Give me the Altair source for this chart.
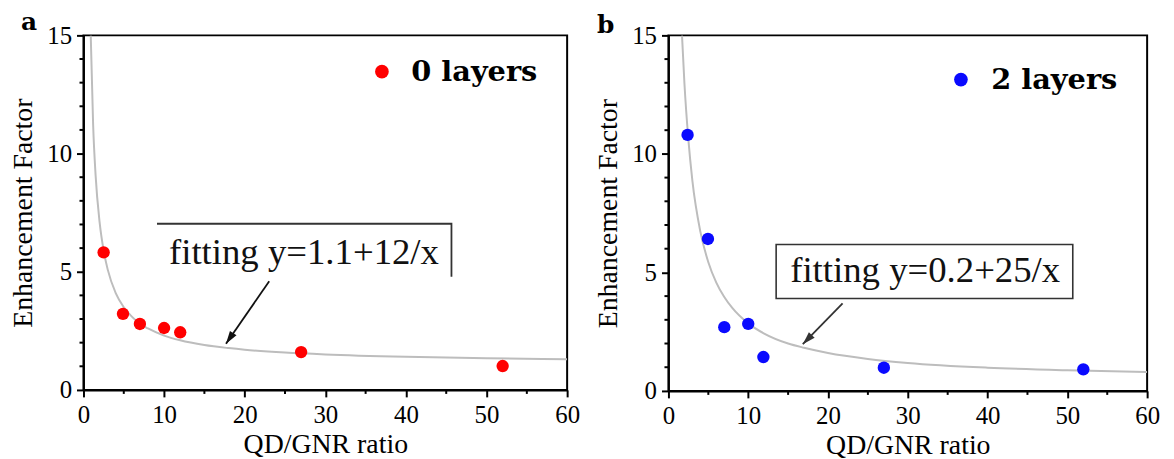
import altair as alt
import pandas as pd

# ---- data ----
ratio_a = [2.5, 4.9, 7.0, 10.0, 12.0, 27.0, 52.0]
ef_0layers = [5.82, 3.22, 2.79, 2.62, 2.44, 1.60, 1.01]
ratio_b = [2.4, 4.95, 7.0, 10.0, 11.9, 27.0, 52.0]
ef_2layers = [10.8, 6.41, 2.69, 2.83, 1.43, 0.98, 0.91]

fit_x_a = [0.9, 1.2, 1.5, 2, 2.5, 3, 4, 5, 6, 7, 8, 10, 12, 15, 18, 20, 25, 30, 40, 50, 60]
fit_y_a = [15, 11.2, 9.1, 7.1, 5.9, 5.1, 4.1, 3.5, 3.1, 2.8, 2.6, 2.3, 2.1, 1.9, 1.77, 1.7, 1.58, 1.5, 1.4, 1.34, 1.3]
fit_x_b = [1.7, 2, 2.5, 3, 4, 5, 6, 7, 8, 10, 12, 15, 17, 20, 25, 30, 40, 50, 60]
fit_y_b = [15, 13.0, 10.6, 8.87, 6.72, 5.43, 4.57, 3.96, 3.5, 2.85, 2.42, 2.0, 1.82, 1.6, 1.35, 1.18, 0.98, 0.87, 0.8]

x_major = [0, 10, 20, 30, 40, 50, 60]
x_minor = [5, 15, 25, 35, 45, 55]
y_major = [0, 5, 10, 15]
y_minor = [1, 2, 3, 4, 6, 7, 8, 9, 11, 12, 13, 14]

series_a = "0 layers"
series_b = "2 layers"
fit_text_a = "fitting y=1.1+12/x"
fit_text_b = "fitting y=0.2+25/x"

# annotation anchors (data coordinates)
box_a_x = [9.12, 45.65, 45.65]
box_a_y = [7.03, 7.03, 4.79]
text_a_pos = [27.35, 5.34]
arrow_a_x = [23.04, 17.68]
arrow_a_y = [4.6, 1.95]

box_b = [13.5, 50.68, 3.9, 6.18]
text_b_pos = [32.18, 4.61]
arrow_b_x = [21.83, 16.84]
arrow_b_y = [3.69, 1.97]

SERIF = "Liberation Serif"
BOLD = "DejaVu Serif"
ARROW = "M0,0L-0.8,2.6L0.8,2.6Z"
MINOR = 4


def xscale():
    return alt.Scale(domain=[0, 60], nice=False, zero=False)


def yscale():
    return alt.Scale(domain=[0, 15], nice=False, zero=False)


def axis_x():
    return alt.Axis(values=x_major, title="QD/GNR ratio", format="d", tickSize=7,
                    labelPadding=6, titlePadding=3, orient="bottom",
                    labelOverlap=False, labelFlush=False)


def axis_y():
    return alt.Axis(values=y_major, title="Enhancement Factor", format="d", tickSize=7,
                    labelPadding=5, titlePadding=9, orient="left",
                    labelOverlap=False, labelFlush=False)


def panel(xs, ys, fx, fy, name, color, legend_x, legend_y, label_offset,
          box_layers, text_pos, fit_text, ax, ay, head_angle, arrow_color,
          tag, tag_x, tag_y, w, h):
    pts = pd.DataFrame({"x": xs, "y": ys, "series": [name] * len(xs)})
    fit = pd.DataFrame({"x": fx, "y": fy})

    curve = alt.Chart(fit).mark_line(color="#bdbdbd", strokeWidth=2, clip=True,
                                     interpolate="monotone").encode(
        x=alt.X("x:Q", scale=xscale(), axis=axis_x()),
        y=alt.Y("y:Q", scale=yscale(), axis=axis_y()),
    )

    # minor ticks, outward, drawn through the scales
    mx = alt.Chart(pd.DataFrame({"x": x_minor})).mark_rule(color="black", strokeWidth=2).encode(
        x=alt.X("x:Q", scale=xscale()), y=alt.value(h), y2=alt.value(h + MINOR))
    my = alt.Chart(pd.DataFrame({"y": y_minor})).mark_rule(color="black", strokeWidth=2).encode(
        y=alt.Y("y:Q", scale=yscale()), x=alt.value(-MINOR), x2=alt.value(0))

    dots = alt.Chart(pts).mark_circle(size=155, opacity=1).encode(
        x=alt.X("x:Q", scale=xscale()),
        y=alt.Y("y:Q", scale=yscale()),
        color=alt.Color("series:N", scale=alt.Scale(domain=[name], range=[color]),
                        legend=alt.Legend(orient="none", legendX=legend_x, legendY=legend_y,
                                          title=None, labelOffset=label_offset)),
    )

    txt_df = pd.DataFrame({"x": [text_pos[0]], "y": [text_pos[1]], "t": [fit_text]})
    txt = alt.Chart(txt_df).mark_text(font=SERIF, fontSize=37, color="#111111",
                                      align="center", baseline="alphabetic").encode(
        x=alt.X("x:Q", scale=xscale()),
        y=alt.Y("y:Q", scale=yscale()),
        text="t:N",
    )

    arr_df = pd.DataFrame({"x": ax, "y": ay, "o": [0, 1]})
    arr_line = alt.Chart(arr_df).mark_line(color=arrow_color, strokeWidth=1.8).encode(
        x=alt.X("x:Q", scale=xscale()),
        y=alt.Y("y:Q", scale=yscale()),
        order="o:Q",
    )
    head_df = pd.DataFrame({"x": [ax[1]], "y": [ay[1]]})
    arr_head = alt.Chart(head_df).mark_point(shape=ARROW, angle=head_angle, size=100,
                                             filled=True, color=arrow_color, opacity=1).encode(
        x=alt.X("x:Q", scale=xscale()),
        y=alt.Y("y:Q", scale=yscale()),
    )

    tag_df = pd.DataFrame({"t": [tag]})
    tag_mark = alt.Chart(tag_df).mark_text(font=BOLD, fontWeight="bold", fontSize=25,
                                           color="black", align="left",
                                           baseline="alphabetic").encode(
        x=alt.value(tag_x), y=alt.value(tag_y), text="t:N")

    layers = [curve, mx, my] + box_layers + [dots, txt, arr_line, arr_head, tag_mark]
    return alt.layer(*layers).properties(width=w, height=h)


# panel a box: only top and right edges
box_a_df = pd.DataFrame({"x": box_a_x, "y": box_a_y, "o": [0, 1, 2]})
box_a = alt.Chart(box_a_df).mark_line(color="#333333", strokeWidth=1.8).encode(
    x=alt.X("x:Q", scale=xscale()),
    y=alt.Y("y:Q", scale=yscale()),
    order="o:Q",
)

box_b_df = pd.DataFrame({"x": [box_b[0]], "x2": [box_b[1]], "y": [box_b[2]], "y2": [box_b[3]]})
box_b_mark = alt.Chart(box_b_df).mark_rect(fill="white", stroke="#333333", strokeWidth=1.6).encode(
    x=alt.X("x:Q", scale=xscale()), x2="x2:Q",
    y=alt.Y("y:Q", scale=yscale()), y2="y2:Q",
)

pa = panel(ratio_a, ef_0layers, fit_x_a, fit_y_a, series_a, "#ff0000", 286, 22, 15,
           [box_a], text_a_pos, fit_text_a, arrow_a_x, arrow_a_y, 214, "#111111",
           "a", -63, -5, 487, 357)
pb = panel(ratio_b, ef_2layers, fit_x_b, fit_y_b, series_b, "#0a0aff", 280, 30, 16,
           [box_b_mark], text_b_pos, fit_text_b, arrow_b_x, arrow_b_y, 224, "#333333",
           "b", -72, -2, 482, 358)

chart = alt.hconcat(pa, pb, spacing=13).resolve_scale(color="independent").properties(
    padding={"left": 1, "top": 0, "right": 5, "bottom": 0}
).configure_view(stroke="black", strokeWidth=2).configure_axis(
    grid=False, domainColor="black", domainWidth=2, tickColor="black", tickWidth=2,
    labelFont=SERIF, labelFontSize=25, labelColor="black", titleFont=SERIF,
    titleFontSize=28, titleFontWeight="normal", titleColor="black",
    labelFlush=False, labelOverlap=False,
).configure_legend(
    labelFont=BOLD, labelFontWeight="bold", labelFontSize=29, labelColor="black",
    symbolType="circle", symbolSize=190, symbolStrokeWidth=0, padding=0,
)

chart.save("out.html", embed_options={"renderer": "svg", "actions": False})
